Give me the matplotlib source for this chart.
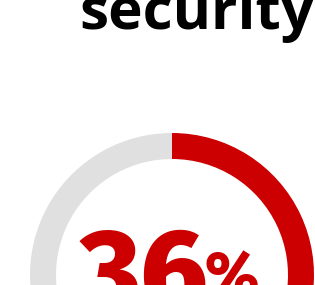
import matplotlib.pyplot as plt

# Дані
shares = [36, 64]
share_colors = ["#cc0000", "#e0e0e0"]
title_word = "security"
big_value = "36"
big_unit = "%"

W, H = 315, 285

fig = plt.figure(figsize=(W / 100, H / 100), dpi=100)
ax = fig.add_axes([0, 0, 1, 1])

# Кільце (координати в пікселях, y знизу вгору)
ax.pie(shares, colors=share_colors, startangle=90, counterclock=False,
       center=(172, H - 275), radius=142,
       wedgeprops=dict(width=26, linewidth=0))

ax.set_xlim(0, W)
ax.set_ylim(0, H)
ax.set_aspect('auto')
ax.axis('off')

# Заголовок (обрізаний зверху)
ax.text(79, H - 29, title_word, ha='left', va='baseline',
        fontsize=42, fontweight=700, family='Open Sans', color='black')

# Велике число
ax.text(78, H - 312, big_value, ha='left', va='baseline',
        fontsize=85, fontweight=800, family='Fira Sans', color='#cc0000')
ax.text(204, H - 296, big_unit, ha='left', va='baseline',
        fontsize=45, fontweight=800, family='Fira Sans', color='#cc0000')

fig.savefig("out.png", dpi=100)
